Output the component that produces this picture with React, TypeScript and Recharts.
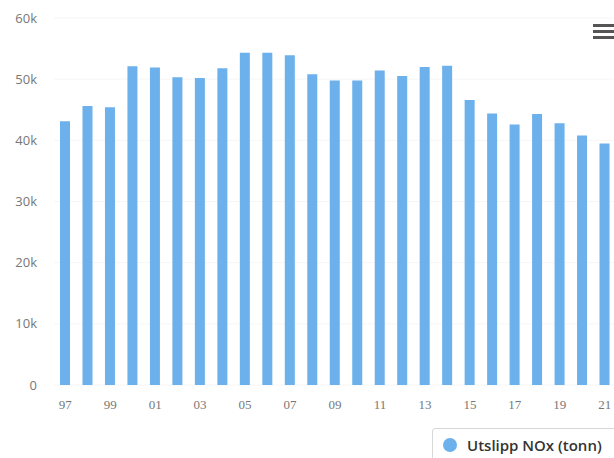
import React from "react";
import { BarChart, Bar, XAxis, YAxis, CartesianGrid, Legend } from "recharts";

const years = [
  "97", "98", "99", "00", "01", "02", "03", "04", "05", "06", "07", "08", "09",
  "10", "11", "12", "13", "14", "15", "16", "17", "18", "19", "20", "21",
];
const noxValues = [
  43100, 45600, 45400, 52100, 51900, 50300, 50200, 51800, 54300, 54300, 53900,
  50800, 49800, 49800, 51400, 50500, 52000, 52200, 46600, 44400, 42600, 44300,
  42800, 40800, 39500,
];
const yTicks = [0, 10000, 20000, 30000, 40000, 50000, 60000];
const seriesName = "Utslipp NOx (tonn)";

const data = years.map((y, i) => ({ year: y, nox: noxValues[i] }));

const BAR_COLOR = "#6cb0ec";

const fmtK = (v: number) => (v === 0 ? "0" : `${v / 1000}k`);

// legend box sits in the bottom-right corner and runs off the edge
const LegendBox = () => (
  <div
    style={{
      border: "1px solid #d8d8d8",
      borderRadius: 3,
      background: "#fff",
      padding: "6px 20px 10px 10px",
      display: "flex",
      alignItems: "center",
      fontFamily: "'Open Sans', sans-serif",
      fontSize: 15,
      fontWeight: 600,
      color: "#333",
      whiteSpace: "nowrap",
    }}
  >
    <span
      style={{
        width: 14,
        height: 14,
        borderRadius: 7,
        background: BAR_COLOR,
        display: "inline-block",
        marginRight: 10,
      }}
    />
    {seriesName}
  </div>
);

const MenuIcon = () => (
  <div style={{ position: "absolute", left: 593, top: 24 }}>
    {[0, 1, 2].map((i) => (
      <div
        key={i}
        style={{ width: 22, height: 3, background: "#555", marginBottom: 3 }}
      />
    ))}
  </div>
);

export default function App() {
  return (
    <div
      style={{
        position: "absolute",
        left: 0,
        top: 0,
        width: 614,
        height: 458,
        overflow: "hidden",
        background: "#fff",
      }}
    >
      <BarChart
        width={620}
        height={458}
        data={data}
        margin={{ top: 18, right: 4, bottom: 5, left: 0 }}
        barCategoryGap={0}
      >
        <CartesianGrid vertical={false} stroke="#f6f6f6" />
        <XAxis
          dataKey="year"
          interval={1}
          axisLine={false}
          tickLine={false}
          tickSize={0}
          tickMargin={15}
          tick={{ fill: "#777", fontSize: 13, fontFamily: "'Liberation Serif', serif" }}
        />
        <YAxis
          width={54}
          domain={[0, 60000]}
          ticks={yTicks}
          tickFormatter={fmtK}
          axisLine={false}
          tickLine={false}
          tickSize={0}
          tickMargin={17}
          tick={{ fill: "#777", fontSize: 13, fontFamily: "'Open Sans', sans-serif" }}
        />
        <Legend
          content={<LegendBox />}
          wrapperStyle={{ position: "absolute", left: 432, top: 428, width: "auto" }}
        />
        <Bar
          dataKey="nox"
          name={seriesName}
          fill={BAR_COLOR}
          barSize={10}
          isAnimationActive={false}
        />
      </BarChart>
      <MenuIcon />
    </div>
  );
}
